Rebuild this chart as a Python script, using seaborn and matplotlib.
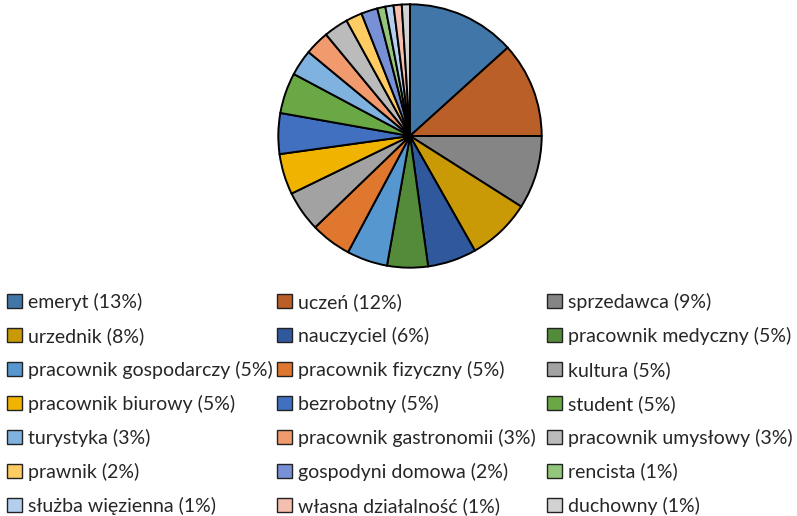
import matplotlib
matplotlib.use("Agg")
import matplotlib.pyplot as plt
from matplotlib.patches import Patch
import seaborn as sns

sns.set_theme(style="white")
plt.rcParams['font.family'] = ['Lato', 'DejaVu Sans']

# ── Data ─────────────────────────────────────────────────────
labels = ['emeryt', 'uczeń', 'sprzedawca', 'urzednik', 'nauczyciel',
          'pracownik medyczny', 'pracownik gospodarczy', 'pracownik fizyczny',
          'kultura', 'pracownik biurowy', 'bezrobotny', 'student',
          'turystyka', 'pracownik gastronomii', 'pracownik umysłowy',
          'prawnik', 'gospodyni domowa', 'rencista',
          'służba więzienna', 'własna działalność', 'duchowny']
shares = [13.3, 11.7, 9.0, 7.8, 6.0,
          5.0, 5.0, 5.0,
          5.0, 5.0, 5.0, 5.0,
          3.2, 3.0, 3.0,
          2.0, 2.0, 1.0,
          1.0, 1.0, 1.0]
pct_labels = ['13%', '12%', '9%', '8%', '6%',
              '5%', '5%', '5%', '5%', '5%', '5%', '5%',
              '3%', '3%', '3%', '2%', '2%', '1%', '1%', '1%', '1%']
colors = ['#4176A8', '#B95F27', '#858585', '#C99A06', '#30599D',
          '#548B3A', '#5797D0', '#DF782E', '#A2A2A2', '#F0B400',
          '#4270C0', '#69A845', '#80B2E0', '#F09A6E', '#BBBBBB',
          '#FFCB63', '#7890D6', '#93C57A', '#B4CFEE', '#F5BFAF', '#D2D2D2']

palette = sns.color_palette(colors)

# ── Figure ───────────────────────────────────────────────────
W, H = 797, 516
fig = plt.figure(figsize=(W / 100, H / 100), dpi=100)
cx, cy, r = 410, 136, 133
ax = fig.add_axes([(cx - r) / W, (H - cy - r) / H, 2 * r / W, 2 * r / H])
ax.pie(shares, colors=palette, startangle=90, counterclock=False,
       wedgeprops=dict(edgecolor='black', linewidth=1.4))
ax.set_xlim(-1.01, 1.01)
ax.set_ylim(-1.01, 1.01)
ax.set_aspect('equal')
ax.axis('off')

# ── Legend: 3 columns, filled row by row ─────────────────────
entries = [f"{l} ({p})" for l, p in zip(labels, pct_labels)]
col_x = [7, 277, 547]
for c in range(3):
    idx = list(range(c, len(entries), 3))
    handles = [Patch(facecolor=palette[i], edgecolor='#222222', linewidth=1.0)
               for i in idx]
    fig.legend(handles, [entries[i] for i in idx],
               loc='upper left', bbox_to_anchor=(col_x[c] / W, 1 - 293 / H),
               frameon=False, fontsize=14, handlelength=0.75, handleheight=0.75,
               handletextpad=0.35, labelspacing=0.82, borderpad=0,
               borderaxespad=0, labelcolor='#262626')

plt.savefig("out.png", dpi=100)
